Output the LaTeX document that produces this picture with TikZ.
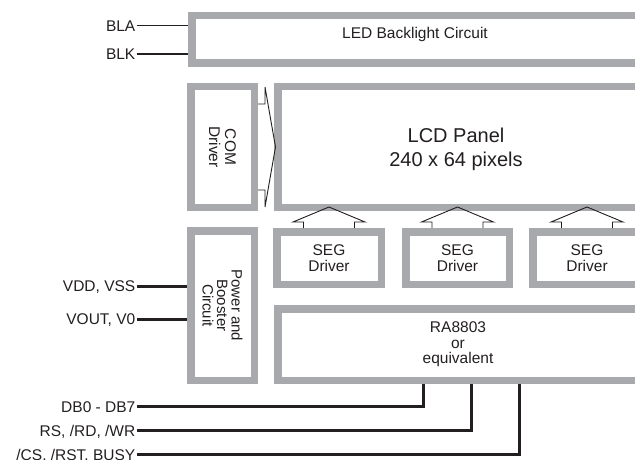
\documentclass[tikz,border=0pt]{standalone}
\usepackage{fontspec}
\setmainfont{Liberation Sans}
\usetikzlibrary{calc}
\definecolor{boxgray}{RGB}{167,169,172}
\definecolor{ink}{RGB}{35,31,32}
\begin{document}
\begin{tikzpicture}[x=1pt,y=-1pt,
  gbox/.style={draw=boxgray, line width=7.5pt, fill=white, inner sep=0pt, outer sep=3.75pt,
    text=ink, align=center, font=\fontsize{15.5}{16}\selectfont},
  lab/.style={font=\fontsize{15.5}{16}\selectfont, inner sep=0pt, inner xsep=1pt,
    text height=11.1pt, text depth=0pt, anchor=east, text=ink},
  txt/.style={text=ink, inner sep=0pt, align=center, font=\fontsize{15.5}{16}\selectfont},
  thinw/.style={draw=ink, line width=1.2pt},
  bus/.style={draw=ink, line width=3pt},
  arr/.style={draw=ink, line width=0.9pt, line join=miter}]
\useasboundingbox (0,0) rectangle (635,460);
\fill[white] (0,0) rectangle (635,460);
\clip (0,0) rectangle (635,460);

% boxes
\node[gbox, minimum width=446.5pt, minimum height=47.5pt] (led) at (415,39.5) {};
\node[txt] (ledt) at (415,34.5) {LED Backlight Circuit};

\node[gbox, minimum width=63.5pt, minimum height=120.5pt] (com) at (222.5,147) {};
\node[txt, rotate=-90] (comt) at (222.5,147) {COM\\Driver};

\node[gbox, minimum width=360.5pt, minimum height=120.5pt] (lcd) at (458,147) {};
\node[txt, font=\fontsize{20}{24}\selectfont] (lcdt) at (456,149) {LCD Panel\\240 x 64 pixels};

\node[gbox, minimum width=104.5pt, minimum height=52.5pt] (s1) at (329,258) {SEG\\Driver};
\node[gbox, minimum width=103.5pt, minimum height=52.5pt] (s2) at (457.5,258) {SEG\\Driver};
\node[gbox, minimum width=108.5pt, minimum height=52.5pt] (s3) at (587,258) {SEG\\Driver};

\node[gbox, minimum width=63.5pt, minimum height=149.5pt] (pwr) at (222.5,305.5) {};
\node[txt, rotate=-90, font=\fontsize{15}{14.5}\selectfont] (pwrt) at (222.5,305.5) {Power and\\Booster\\Circuit};

\node[gbox, minimum width=360.5pt, minimum height=71.5pt, font=\fontsize{15.5}{15.5}\selectfont] (ra) at (458,344.5) {RA8803\\or\\equivalent};

% COM arrow
\draw[arr] ($(com.east)+(0,-43)$) -- ++(7,0) -- ++(0,-17) -- ($(lcd.west)+(1.5,0)$)
  -- ($(com.east)+(7,60)$) -- ++(0,-17) -- ++(-7,0);

% SEG arrows
\foreach \s in {s1,s2,s3}{
  \draw[arr] ($(\s.north)+(-25.5,0)$) -- ++(0,-6) -- ++(-10.5,0)
    -- ($(\s.north |- lcd.south)+(0,-4)$)
    -- ($(\s.north)+(36,-6)$) -- ++(-10.5,0) -- ++(0,6);
}

% left labels
\node[lab] (bla) at (136.5,25.7) {BLA};
\node[lab] (blk) at (136.5,54) {BLK};
\node[lab] (vdd) at (136.5,286) {VDD, VSS};
\node[lab] (vout) at (136.5,319) {VOUT, V0};
\node[lab] (db) at (136.5,406.5) {DB0 - DB7};
\node[lab] (rs) at (136.5,430.7) {RS, /RD, /WR};
\node[lab] (cs) at (136.5,454.5) {/CS. /RST. BUSY};

\draw[thinw] (bla.east) -- (bla.east -| led.west);
\draw[thinw] (blk.east) -- (blk.east -| led.west);
\draw[bus] (vdd.east) -- (vdd.east -| pwr.west);
\draw[bus] (vout.east) -- (vout.east -| pwr.west);
\draw[bus] (db.east) -| ([xshift=149.3pt]ra.south west);
\draw[bus] (rs.east) -| ([xshift=197.7pt]ra.south west);
\draw[bus] (cs.east) -| ([xshift=245.3pt]ra.south west);
\end{tikzpicture}
\end{document}
